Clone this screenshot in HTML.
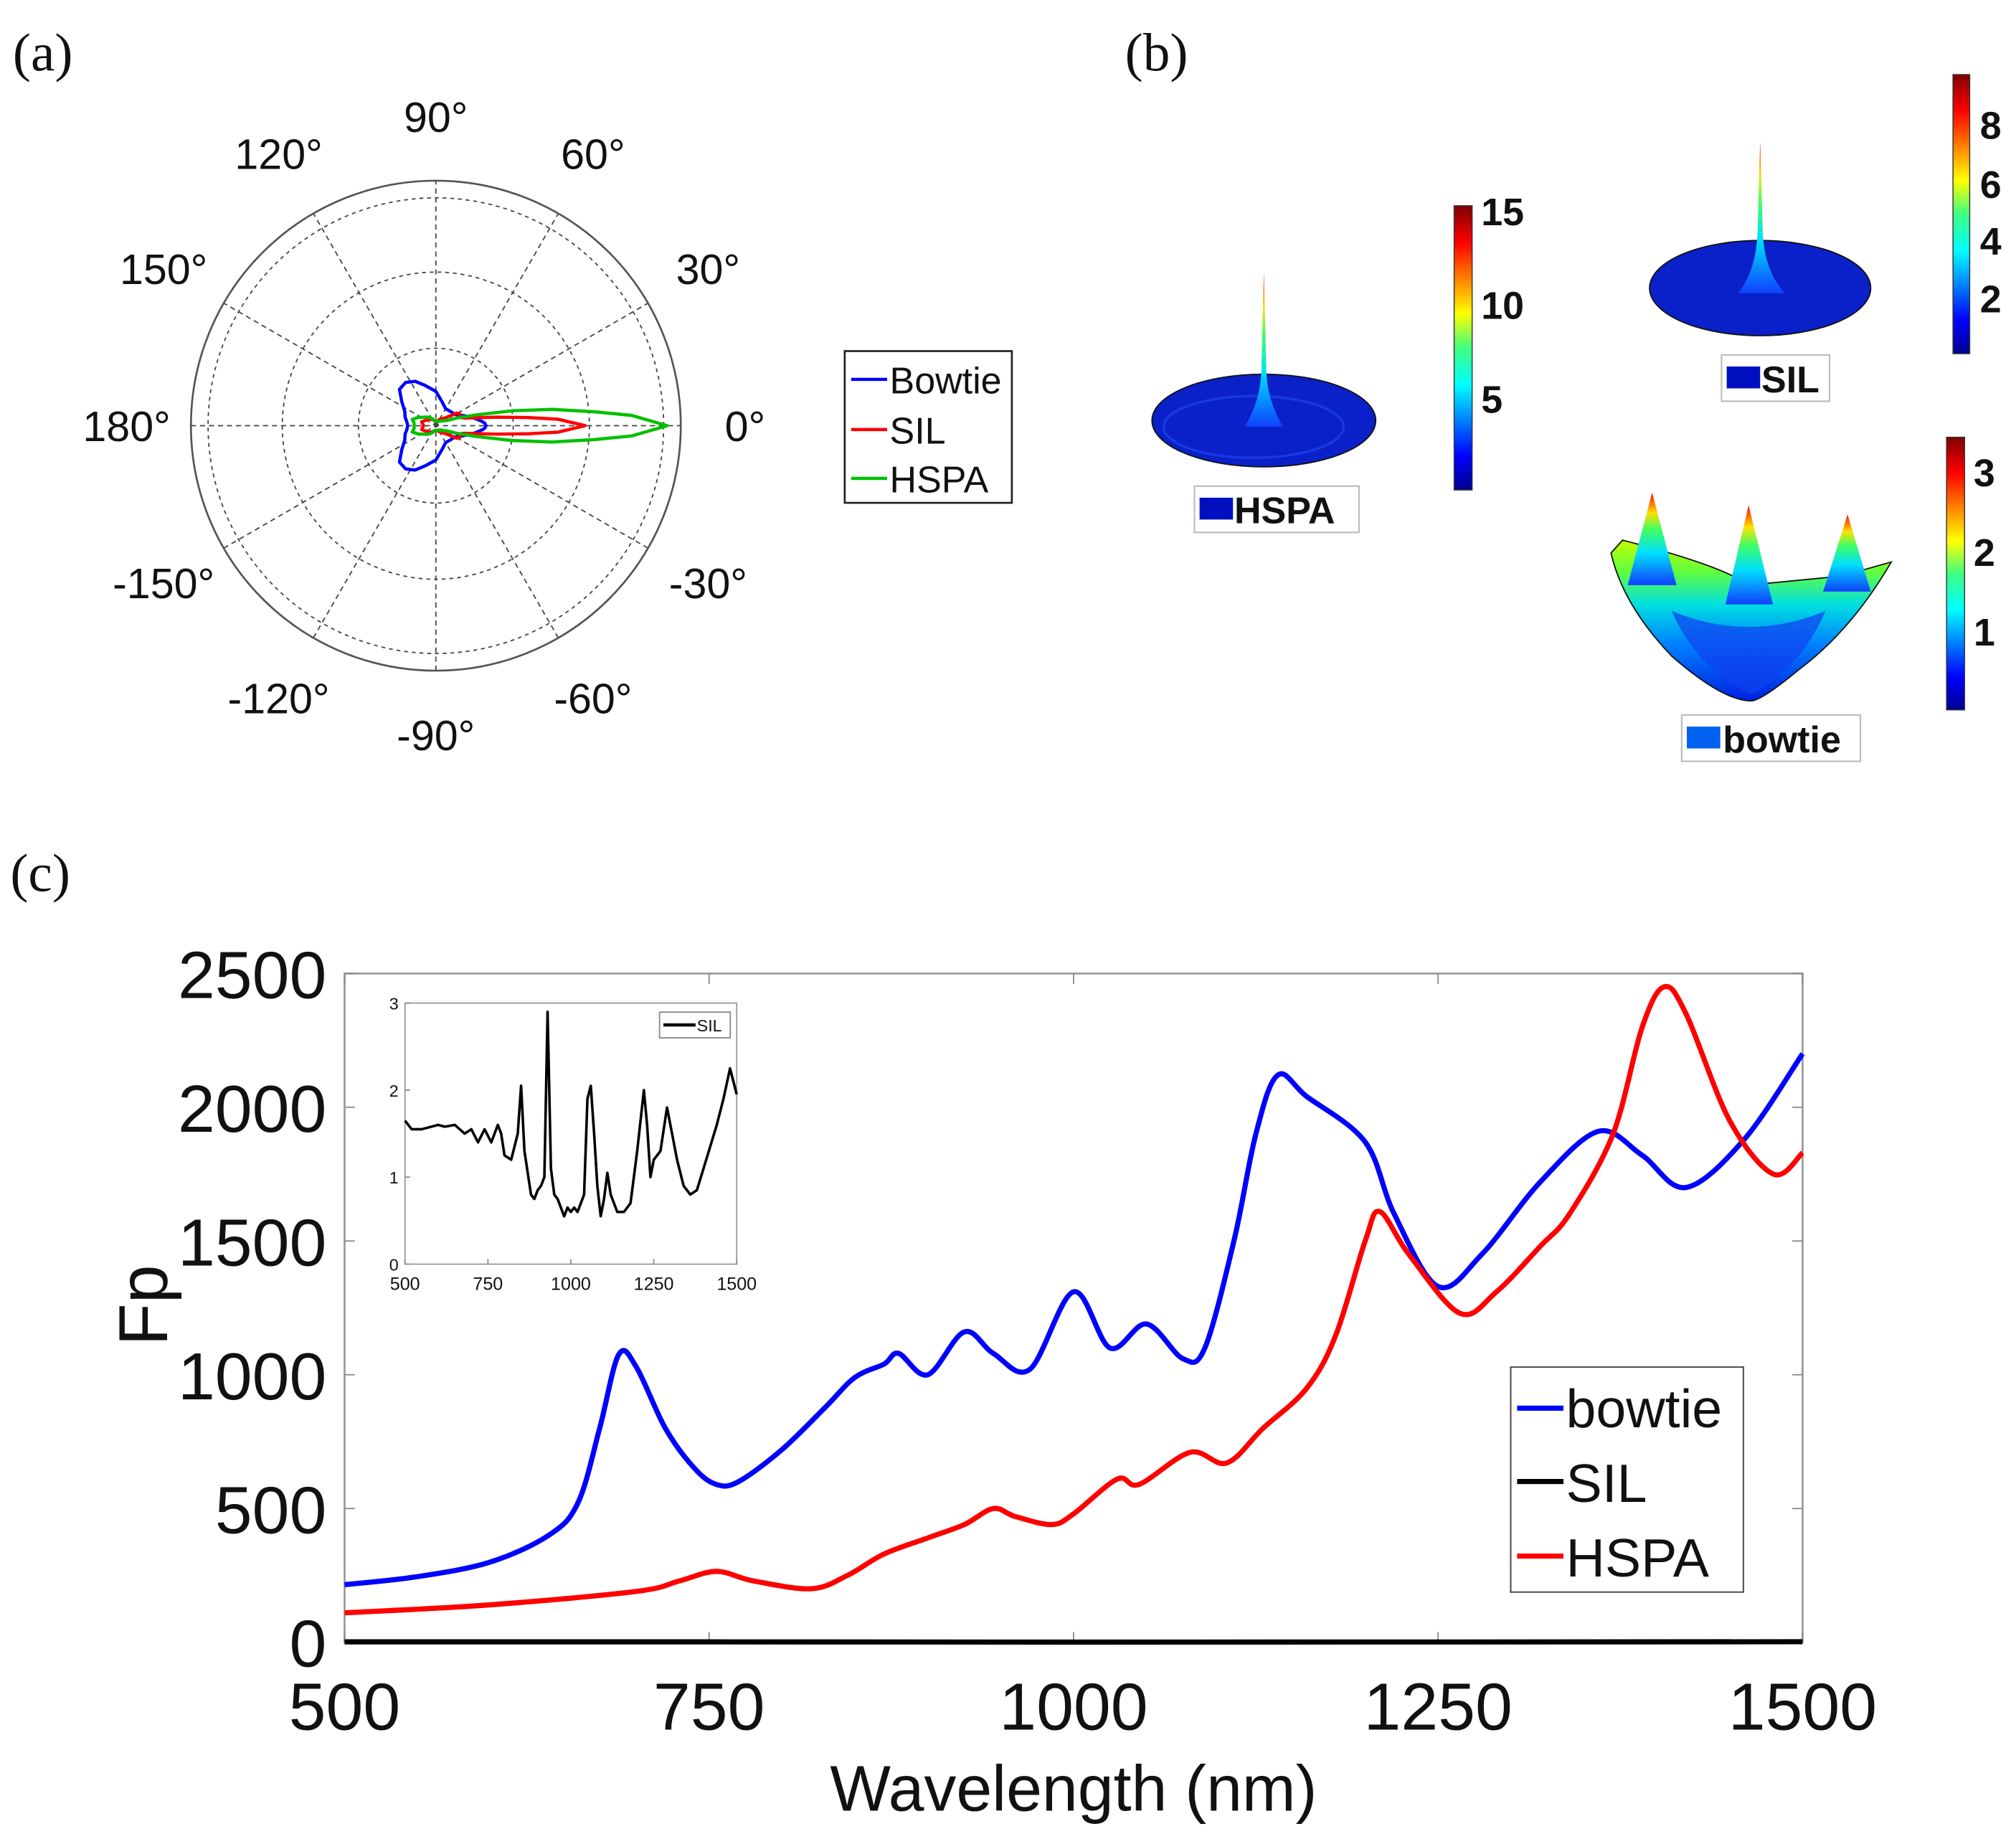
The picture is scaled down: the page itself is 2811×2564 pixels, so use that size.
<!DOCTYPE html>
<html><head><meta charset="utf-8"><style>
html,body{margin:0;padding:0;background:#fff}
svg{display:block}
text{font-family:"Liberation Sans",Arial,sans-serif;fill:#111}
.serif{font-family:"Liberation Serif",serif}
</style></head><body>
<svg id="fig" width="2811" height="2564" viewBox="0 0 1568 1430" preserveAspectRatio="none" xmlns="http://www.w3.org/2000/svg">
<defs>
<linearGradient id="jet" x1="0" y1="1" x2="0" y2="0">
<stop offset="0" stop-color="#00008f"/><stop offset="0.12" stop-color="#0000ff"/><stop offset="0.37" stop-color="#00ffff"/><stop offset="0.5" stop-color="#40ff80"/><stop offset="0.62" stop-color="#ffff00"/><stop offset="0.87" stop-color="#ff0000"/><stop offset="1" stop-color="#800000"/>
</linearGradient>
<linearGradient id="spike" x1="0" y1="1" x2="0" y2="0">
<stop offset="0" stop-color="#1040ff"/><stop offset="0.35" stop-color="#00e0ff"/><stop offset="0.6" stop-color="#40ff60"/><stop offset="0.78" stop-color="#ffe000"/><stop offset="1" stop-color="#ff0000"/>
</linearGradient>
<linearGradient id="bowl" x1="0" y1="1" x2="0" y2="0">
<stop offset="0" stop-color="#0020e0"/><stop offset="0.35" stop-color="#0080ff"/><stop offset="0.6" stop-color="#00e0e0"/><stop offset="0.8" stop-color="#60ff40"/><stop offset="1" stop-color="#c0ff00"/>
</linearGradient>
</defs>
<text class="serif" x="10" y="55" font-size="42">(a)</text>
<text class="serif" x="875" y="55" font-size="42">(b)</text>
<text class="serif" x="8" y="693" font-size="42">(c)</text>
<g id="polar"></g>
<g id="legendA">
<rect x="657" y="273" width="130" height="118" fill="#fff" stroke="#222" stroke-width="1.5"/>
<line x1="662" y1="295" x2="690" y2="295" stroke="#0000ff" stroke-width="2.5"/><text x="692" y="306" font-size="29">Bowtie</text>
<line x1="662" y1="334" x2="690" y2="334" stroke="#ff0000" stroke-width="2.5"/><text x="692" y="345" font-size="29">SIL</text>
<line x1="662" y1="372" x2="690" y2="372" stroke="#00c000" stroke-width="2.5"/><text x="692" y="383" font-size="29">HSPA</text>
</g>
<!-- panel b -->
<g>
<ellipse cx="983" cy="327" rx="87" ry="36" fill="#0a20c8" stroke="#111" stroke-width="1"/>
<ellipse cx="975" cy="332" rx="70" ry="24" fill="none" stroke="#1838e0" stroke-width="2"/>
<path d="M968 332 Q980 312 981 290 L983 212 L985 290 Q986 312 998 332 Z" fill="url(#spike)"/>
</g>
<g>
<rect x="1131" y="160" width="14" height="221" fill="url(#jet)" stroke="#333" stroke-width="0.8"/>
<text x="1152" y="175" font-size="30" font-weight="bold">15</text>
<text x="1152" y="248" font-size="30" font-weight="bold">10</text>
<text x="1152" y="321" font-size="30" font-weight="bold">5</text>
</g>
<g>
<rect x="929" y="378" width="128" height="36" fill="#fff" stroke="#bbb" stroke-width="1.2"/>
<rect x="933" y="387" width="26" height="17" fill="#0010c0"/>
<text x="960" y="407" font-size="29" font-weight="bold">HSPA</text>
</g>
<g>
<ellipse cx="1369" cy="224" rx="86" ry="37" fill="#0a20c8" stroke="#111" stroke-width="1"/>
<path d="M1352 228 Q1366 210 1367 180 L1369 110 L1371 180 Q1372 210 1388 228 Z" fill="url(#spike)"/>
</g>
<g>
<rect x="1519" y="58" width="13" height="217" fill="url(#jet)" stroke="#333" stroke-width="0.8"/>
<text x="1540" y="108" font-size="30" font-weight="bold">8</text>
<text x="1540" y="154" font-size="30" font-weight="bold">6</text>
<text x="1540" y="198" font-size="30" font-weight="bold">4</text>
<text x="1540" y="243" font-size="30" font-weight="bold">2</text>
</g>
<g>
<rect x="1339" y="276" width="84" height="36" fill="#fff" stroke="#bbb" stroke-width="1.2"/>
<rect x="1343" y="285" width="26" height="17" fill="#0010c0"/>
<text x="1370" y="305" font-size="29" font-weight="bold">SIL</text>
</g>
<g>
<path d="M1253 430 L1262 420 Q1340 440 1360 455 L1432 448 L1471 437 Q1440 490 1400 520 Q1370 545 1362 545 Q1340 545 1300 510 Q1262 470 1253 430 Z" fill="url(#bowl)" stroke="#111" stroke-width="1"/>
<path d="M1300 475 Q1360 500 1420 475 Q1400 520 1362 540 Q1320 520 1300 475 Z" fill="#1040f0" opacity="0.7"/>
<path d="M1266 455 L1285 383 L1304 455 Z" fill="url(#spike)"/>
<path d="M1342 470 L1360 393 L1379 470 Z" fill="url(#spike)"/>
<path d="M1418 460 L1437 400 L1455 460 Z" fill="url(#spike)"/>
</g>
<g>
<rect x="1514" y="340" width="14" height="212" fill="url(#jet)" stroke="#333" stroke-width="0.8"/>
<text x="1535" y="378" font-size="30" font-weight="bold">3</text>
<text x="1535" y="440" font-size="30" font-weight="bold">2</text>
<text x="1535" y="502" font-size="30" font-weight="bold">1</text>
</g>
<g>
<rect x="1308" y="556" width="139" height="36" fill="#fff" stroke="#bbb" stroke-width="1.2"/>
<rect x="1312" y="565" width="26" height="17" fill="#0060f0"/>
<text x="1340" y="585" font-size="29" font-weight="bold">bowtie</text>
</g>
<!-- panel c -->
<g id="mainplot"></g>
<g id="inset"></g>
<g>
<rect x="1175" y="1063" width="181" height="175" fill="#fff" stroke="#555" stroke-width="1.2"/>
<line x1="1180" y1="1095" x2="1216" y2="1095" stroke="#0000ff" stroke-width="4"/><text x="1218" y="1110" font-size="42">bowtie</text>
<line x1="1180" y1="1152" x2="1216" y2="1152" stroke="#000" stroke-width="4"/><text x="1218" y="1168" font-size="42">SIL</text>
<line x1="1180" y1="1210" x2="1216" y2="1210" stroke="#ff0000" stroke-width="4"/><text x="1218" y="1226" font-size="42">HSPA</text>
</g>
</svg>
<script>
const NS='http://www.w3.org/2000/svg';
function mk(p,t,a){const e=document.createElementNS(NS,t);for(const k in a)e.setAttribute(k,a[k]);p.appendChild(e);return e;}
// ---- polar data (angle deg, normalized radius) ----
const polarAngles=[0,3,5,8,11,15,20,25,31,40,60,75,90,105,115,125,135,145,155,165,172,180];
const bowtieR=[0.205,0.2,0.19,0.175,0.16,0.14,0.12,0.1,0.09,0.085,0.08,0.1,0.14,0.17,0.2,0.215,0.21,0.17,0.14,0.13,0.12,0.115];
const silR=[0.61,0.5,0.38,0.25,0.17,0.12,0.1,0.11,0.1,0.05,0.03,0.02,0.02,0.02,0.03,0.03,0.04,0.04,0.05,0.06,0.055,0.05];
const hspaR=[0.945,0.8,0.65,0.48,0.32,0.17,0.09,0.05,0.04,0.03,0.02,0.02,0.02,0.02,0.03,0.04,0.05,0.06,0.08,0.1,0.09,0.088];
const polarLabels=['0°','30°','60°','90°','120°','150°','180°','-150°','-120°','-90°','-60°','-30°'];
const ringFracs=[0.316,0.627,0.93];
(function(){
 const g=document.getElementById('polar');const cx=339,cy=331,R=190.5;
 ringFracs.forEach(f=>{const c=mk(g,'circle',{cx,cy,r:R*f,fill:'none',stroke:'#444','stroke-width':1,'stroke-dasharray':'3 3'});
 
 });
 for(let i=0;i<6;i++){const a=i*30*Math.PI/180;const l=mk(g,'line',{x1:cx-R*Math.cos(a),y1:cy+R*Math.sin(a),x2:cx+R*Math.cos(a),y2:cy-R*Math.sin(a),stroke:'#444','stroke-width':1,'stroke-dasharray':'4 3'});
 
 }
 const oc=mk(g,'circle',{cx,cy,r:R,fill:'none',stroke:'#555','stroke-width':1.5});
 
 
 polarLabels.forEach((s,i)=>{const a=i*30*Math.PI/180;const rr=R+(i%3==0?50:54);
  const t=mk(g,'text',{x:cx+rr*Math.cos(a),y:cy-rr*Math.sin(a)+12,'font-size':33,'text-anchor':'middle'});t.textContent=s;
  
  });
 function curve(rs,col,name){let pts=[];
  const full=polarAngles.concat(polarAngles.slice(0,-1).reverse().map(a=>360-a));
  const rfull=rs.concat(rs.slice(0,-1).reverse());
  full.forEach((a,i)=>{const t=a*Math.PI/180;pts.push((cx+R*rfull[i]*Math.cos(t)).toFixed(1)+','+(cy-R*rfull[i]*Math.sin(t)).toFixed(1));});
  const p=mk(g,'polygon',{points:pts.join(' '),fill:'none',stroke:col,'stroke-width':2.5,'stroke-linejoin':'round'});
  
  }
 curve(bowtieR,'#0000ff','bowtie-pattern');curve(silR,'#ff0000','sil-pattern');curve(hspaR,'#00c000','hspa-pattern');
})();
// ---- main chart data ----
const bowtieX=[500,550,600,640,660,675,688,700,720,740,755,770,800,830,850,870,880,900,925,945,970,1000,1025,1050,1075,1090,1110,1125,1140,1160,1200,1220,1250,1280,1320,1360,1390,1420,1460,1500];
const bowtieY=[215,245,300,400,520,800,1075,1030,800,650,590,600,720,880,990,1040,1080,1000,1160,1080,1020,1310,1100,1190,1060,1100,1500,1900,2120,2040,1870,1600,1330,1450,1720,1910,1820,1700,1880,2200];
const hspaX=[500,600,700,730,755,780,820,845,870,900,925,945,960,985,1000,1030,1045,1080,1105,1130,1160,1180,1200,1210,1230,1265,1290,1320,1340,1370,1390,1405,1420,1450,1480,1500];
const hspaY=[110,140,190,230,265,230,200,250,330,390,440,500,470,440,480,610,590,710,670,800,950,1150,1500,1610,1450,1230,1310,1480,1600,1900,2300,2450,2350,1950,1750,1830];
const silX=[500,750,1000,1250,1500];
const silY=[1.6,1.5,0.6,1.2,1.9];
const xTicks=[500,750,1000,1250,1500];
const yTicks=[0,500,1000,1500,2000,2500];
const insetX=[500,520,550,600,620,650,680,700,720,740,760,780,790,800,820,840,850,860,880,890,900,910,920,930,940,950,960,980,990,1000,1010,1020,1040,1050,1060,1070,1080,1090,1100,1110,1120,1140,1150,1160,1180,1200,1220,1230,1240,1250,1270,1290,1300,1320,1340,1360,1380,1400,1440,1460,1480,1500];
const insetY=[1.65,1.55,1.55,1.6,1.58,1.6,1.5,1.55,1.4,1.55,1.4,1.6,1.5,1.25,1.2,1.5,2.05,1.3,0.8,0.75,0.85,0.9,1.0,2.9,1.1,0.8,0.75,0.55,0.65,0.6,0.65,0.6,0.8,1.9,2.05,1.5,0.9,0.55,0.75,1.05,0.8,0.6,0.6,0.6,0.7,1.3,2.0,1.6,1.0,1.2,1.3,1.8,1.6,1.2,0.9,0.8,0.85,1.1,1.6,1.9,2.25,1.95];
const insetXTicks=[500,750,1000,1250,1500];
const insetYTicks=[0,1,2,3];
function path(xs,ys,sx,sy){return xs.map((x,i)=>(i?'L':'M')+sx(x).toFixed(1)+' '+sy(ys[i]).toFixed(1)).join(' ');}
function smooth(xs,ys,sx,sy){const P=xs.map((x,i)=>[sx(x),sy(ys[i])]);let d='M'+P[0][0]+' '+P[0][1];
 for(let i=0;i<P.length-1;i++){const p0=P[i-1]||P[i],p1=P[i],p2=P[i+1],p3=P[i+2]||P[i+1];
 d+=' C'+(p1[0]+(p2[0]-p0[0])/6).toFixed(1)+' '+(p1[1]+(p2[1]-p0[1])/6).toFixed(1)+' '+(p2[0]-(p3[0]-p1[0])/6).toFixed(1)+' '+(p2[1]-(p3[1]-p1[1])/6).toFixed(1)+' '+p2[0].toFixed(1)+' '+p2[1].toFixed(1);}return d;}
(function(){
 const g=document.getElementById('mainplot');const L=268,Rr=1402,T=757,B=1277;
 const sx=v=>L+(v-500)/1000*(Rr-L),sy=v=>B-v/2500*(B-T);
 const fr=mk(g,'rect',{x:L,y:T,width:Rr-L,height:B-T,fill:'#fff',stroke:'#999','stroke-width':1.5});
 
 
 xTicks.forEach(v=>{mk(g,'line',{x1:sx(v),y1:B,x2:sx(v),y2:B-8,stroke:'#888'});mk(g,'line',{x1:sx(v),y1:T,x2:sx(v),y2:T+8,stroke:'#888'});
  const t=mk(g,'text',{x:sx(v),y:B+68,'font-size':52,'text-anchor':'middle'});t.textContent=v;
  
  });
 yTicks.forEach(v=>{mk(g,'line',{x1:L,y1:sy(v),x2:L+8,y2:sy(v),stroke:'#888'});mk(g,'line',{x1:Rr,y1:sy(v),x2:Rr-8,y2:sy(v),stroke:'#888'});
  const t=mk(g,'text',{x:L-14,y:sy(v)+19,'font-size':52,'text-anchor':'end'});t.textContent=v;
  
  });
 const xt=mk(g,'text',{x:835,y:1408,'font-size':50,'text-anchor':'middle'});xt.textContent='Wavelength (nm)';
 
 
 const yt=mk(g,'text',{x:0,y:0,'font-size':54,'text-anchor':'middle',transform:'translate(130 1015) rotate(-90)'});yt.textContent='Fp';
 
 
 const s=mk(g,'path',{d:path(silX,silY,sx,sy),fill:'none',stroke:'#000','stroke-width':4});
 
 
 const b=mk(g,'path',{d:smooth(bowtieX,bowtieY,sx,sy),fill:'none',stroke:'#0000ff','stroke-width':4});
 
 
 const h=mk(g,'path',{d:smooth(hspaX,hspaY,sx,sy),fill:'none',stroke:'#ff0000','stroke-width':4});
 
 
})();
(function(){
 const g=document.getElementById('inset');const L=315,Rr=573,T=780,B=983;
 const sx=v=>L+(v-500)/1000*(Rr-L),sy=v=>B-v/3*(B-T);
 const fr=mk(g,'rect',{x:L,y:T,width:Rr-L,height:B-T,fill:'#fff',stroke:'#999','stroke-width':1});
 
 
 insetXTicks.forEach(v=>{mk(g,'line',{x1:sx(v),y1:B,x2:sx(v),y2:B-4,stroke:'#888'});
  const t=mk(g,'text',{x:sx(v),y:B+20,'font-size':14,'text-anchor':'middle'});t.textContent=v;
  
  });
 insetYTicks.forEach(v=>{mk(g,'line',{x1:L,y1:sy(v),x2:L+4,y2:sy(v),stroke:'#888'});
  const t=mk(g,'text',{x:L-5,y:sy(v)+5,'font-size':13,'text-anchor':'end'});t.textContent=v;
  
  });
 const p=mk(g,'path',{d:path(insetX,insetY,sx,sy),fill:'none',stroke:'#000','stroke-width':2,'stroke-linejoin':'round'});
 
 
 const lb=mk(g,'rect',{x:513,y:787,width:55,height:20,fill:'#fff',stroke:'#888','stroke-width':1});
 
 
 mk(g,'line',{x1:516,y1:797,x2:541,y2:797,stroke:'#000','stroke-width':2.5});
 const t=mk(g,'text',{x:542,y:802,'font-size':13});t.textContent='SIL';
 
 
})();
</script>
</body></html>
